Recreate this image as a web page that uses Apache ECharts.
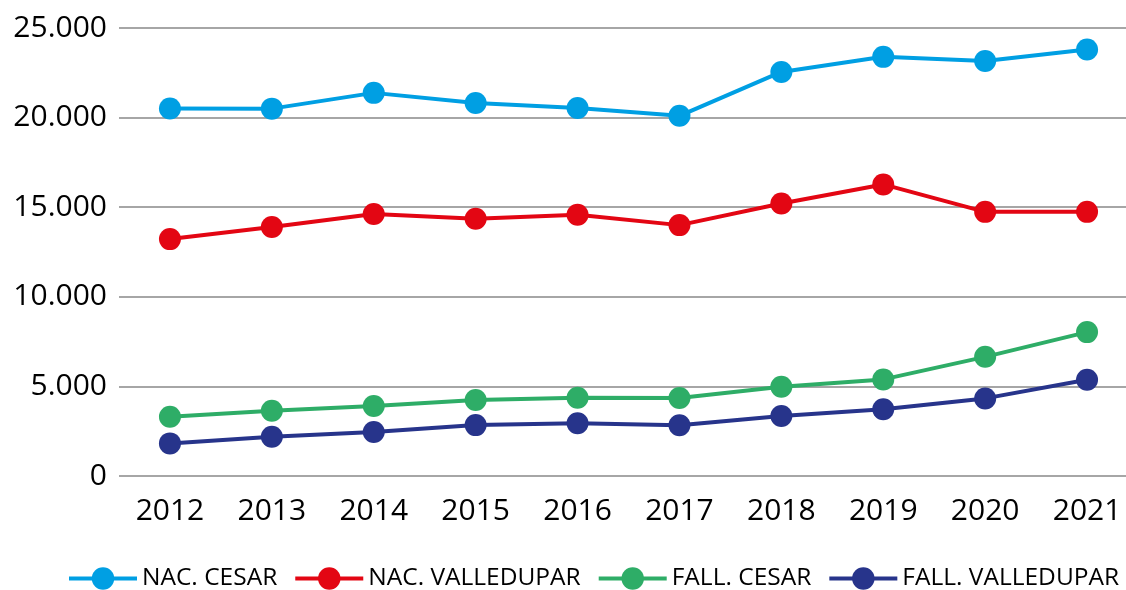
<!DOCTYPE html>
<html>
<head>
<meta charset="utf-8">
<script src="https://cdn.jsdelivr.net/npm/echarts@6/dist/echarts.min.js"></script>
<style>
    html, body { margin: 0; padding: 0; background: #fff; }
    #chart { width: 1126px; height: 590px; }
</style>
</head>
<body>
<div id="chart"></div>
<script>
var years = ['2012', '2013', '2014', '2015', '2016', '2017', '2018', '2019', '2020', '2021'];
var seriesNames = ['NAC. CESAR', 'NAC. VALLEDUPAR', 'FALL. CESAR', 'FALL. VALLEDUPAR'];
var nacCesar = [20510, 20500, 21380, 20820, 20540, 20100, 22550, 23390, 23160, 23800];
var nacValledupar = [13220, 13890, 14620, 14360, 14580, 14000, 15210, 16270, 14740, 14740];
var fallCesar = [3310, 3640, 3910, 4240, 4370, 4350, 4980, 5390, 6650, 8030];
var fallValledupar = [1820, 2190, 2450, 2840, 2940, 2830, 3350, 3720, 4330, 5370];
var yTicks = [0, 5000, 10000, 15000, 20000, 25000];

var colors = ['#009FE3', '#E30613', '#2EAD67', '#27348B'];
var values = [nacCesar, nacValledupar, fallCesar, fallValledupar];

var fontName = '"Open Sans", "Noto Sans", sans-serif';

// separador de miles con punto
function fmt(v) {
    return String(v).replace(/\B(?=(\d{3})+(?!\d))/g, '.');
}

var series = [];
for (var i = 0; i < seriesNames.length; i++) {
    series.push({
        name: seriesNames[i],
        type: 'line',
        data: values[i],
        symbol: 'circle',
        symbolSize: 22,
        lineStyle: { width: 4, color: colors[i] },
        itemStyle: { color: colors[i] }
    });
}

var myChart = echarts.init(document.getElementById('chart'), null, { renderer: 'canvas' });

var option = {
    animation: false,
    color: colors,
    grid: {
        left: 119,
        top: 28,
        width: 1019,
        height: 448,
        containLabel: false,
        outerBoundsMode: 'none'
    },
    legend: {
        data: seriesNames,
        top: 566,
        left: 67,
        width: 1200,
        padding: 0,
        itemWidth: 68,
        itemHeight: 28,
        itemGap: 16,
        lineStyle: { width: 4 },
        textStyle: { fontFamily: fontName, fontSize: 24.5, color: '#000', padding: [0, 0, 0, 0] }
    },
    xAxis: {
        type: 'category',
        data: years,
        boundaryGap: true,
        axisLine: { show: false },
        axisTick: { show: false },
        axisLabel: {
            margin: 20,
            fontFamily: fontName,
            fontSize: 30,
            color: '#000'
        }
    },
    yAxis: {
        type: 'value',
        min: yTicks[0],
        max: yTicks[yTicks.length - 1],
        interval: 5000,
        axisLine: { show: false },
        axisTick: { show: false },
        splitLine: { lineStyle: { color: '#A6A6A6', width: 2 } },
        axisLabel: {
            margin: 12,
            fontFamily: fontName,
            fontSize: 30,
            color: '#000',
            formatter: fmt
        }
    },
    series: series
};

myChart.setOption(option);
</script>
</body>
</html>
